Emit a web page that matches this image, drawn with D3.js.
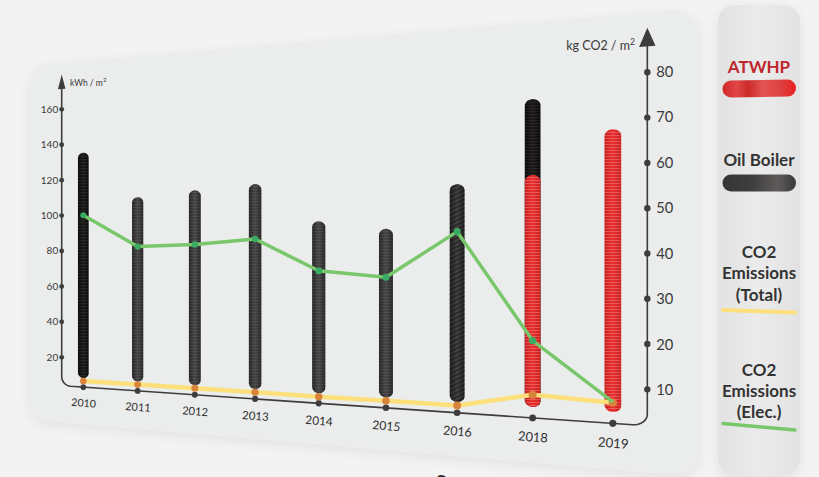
<!DOCTYPE html>
<html>
<head>
<meta charset="utf-8">
<script src="https://d3js.org/d3.v7.min.js"></script>
<style>
  body { margin: 0; background: #f3f3f3; }
  svg { display: block; font-family: Lato, "Open Sans", sans-serif; }
</style>
</head>
<body>
<svg id="chart" width="819" height="477"></svg>
<script>
// data
var years = ["2010", "2011", "2012", "2013", "2014", "2015", "2016", "2018", "2019"]
var oilBoiler = [135, 109.5, 112.5, 115, 95.5, 91.5, 112.5, 35, 0]   // kWh / m2
var atwhp = [0, 0, 0, 0, 0, 0, 0, 116, 135.5]                         // kWh / m2
var co2Total = [3.7, 3.7, 3.7, 3.7, 3.6, 3.7, 3.7, 7.3, 6.6]          // kg CO2 / m2
var co2Elec = [50, 41.3, 41.9, 43.3, 35.3, 33.9, 45, 19.8, 6.8]       // kg CO2 / m2
var kwhTicks = [20, 40, 60, 80, 100, 120, 140, 160]
var co2Ticks = [10, 20, 30, 40, 50, 60, 70, 80]
var legendNames = [["ATWHP"], ["Oil Boiler"], ["CO2", "Emissions", "(Total)"], ["CO2", "Emissions", "(Elec.)"]]

var svg = d3.select("#chart")

// perspective: the chart is drawn flat, then every point goes through proj()
var D = 2101.7, x0 = 61.7, vpx = x0 - D, vpy = 242.1
function depth(X) { return 1 / (1 - X / D) }
function proj(X, Y) {
    var s = depth(X)
    return [vpx + D * s, vpy + (Y - vpy) * s]
}
function projAll(pts) { return pts.map(function(p) { return proj(p[0], p[1]) }) }

var plotW = 458
var x = d3.scalePoint().domain(years).range([0, plotW]).padding(0.412)
var yL = d3.scaleLinear().domain([0, 160]).range([392.7, 109.3])
var yR = d3.scaleLinear().domain([0, 80]).range([392.7, 109.3])
var axisY = 385.7
var barBase = 9
var barW = 10.5

function arcPts(cx, cy, r, a0, a1, n) {
    var pts = []
    for (var i = 0; i <= n; i++) {
        var a = a0 + (a1 - a0) * i / n
        pts.push([cx + r * Math.cos(a), cy + r * Math.sin(a)])
    }
    return pts
}
function roundRect(x1, y1, x2, y2, r) {
    return [].concat(
        arcPts(x1 + r, y1 + r, r, Math.PI, 1.5 * Math.PI, 8),
        arcPts(x2 - r, y1 + r, r, 1.5 * Math.PI, 2 * Math.PI, 8),
        arcPts(x2 - r, y2 - r, r, 0, 0.5 * Math.PI, 8),
        arcPts(x1 + r, y2 - r, r, 0.5 * Math.PI, Math.PI, 8))
}
function pill(cx, yTop, yBot, r) {
    return [].concat(
        arcPts(cx, yTop + r, r, Math.PI, 2 * Math.PI, 12),
        arcPts(cx, yBot - r, r, 0, Math.PI, 12))
}
var lineClosed = d3.line().curve(d3.curveLinearClosed)
var lineOpen = d3.line()

// defs
var defs = svg.append("defs")
function hGrad(id, stops) {
    var g = defs.append("linearGradient").attr("id", id)
    stops.forEach(function(s) {
        g.append("stop").attr("offset", s[0]).attr("stop-color", s[1])
    })
}
hGrad("gDark", [[0, "#252424"], [0.5, "#474545"], [1, "#252424"]])
hGrad("gBlack", [[0, "#080808"], [0.5, "#1d1919"], [1, "#080808"]])
hGrad("gRed", [[0, "#c81e1e"], [0.5, "#ec3131"], [1, "#c81e1e"]])
hGrad("gLegRed", [[0, "#cf2a2a"], [0.2, "#e04545"], [0.35, "#cc2a2a"], [0.55, "#e45454"], [0.8, "#de4040"], [1, "#ea1f1f"]])
hGrad("gLegDark", [[0, "#353535"], [0.4, "#3f3e3e"], [0.75, "#5e5a5a"], [1, "#3a3a3a"]])
hGrad("gLegPanel", [[0, "#e2e2e2"], [0.5, "#ebebeb"], [1, "#e2e2e2"]])

var stripes = defs.append("pattern").attr("id", "stripes").attr("patternUnits", "userSpaceOnUse")
    .attr("width", 6).attr("height", 3)
stripes.append("rect").attr("width", 6).attr("height", 1.2).attr("fill", "#fff").attr("opacity", 0.07)
var stripesRed = defs.append("pattern").attr("id", "stripesRed").attr("patternUnits", "userSpaceOnUse")
    .attr("width", 6).attr("height", 3)
stripesRed.append("rect").attr("width", 6).attr("height", 1).attr("fill", "#fff").attr("opacity", 0.22)
var diag = defs.append("pattern").attr("id", "diag").attr("patternUnits", "userSpaceOnUse")
    .attr("width", 6).attr("height", 4).attr("patternTransform", "rotate(-25)")
diag.append("rect").attr("width", 6).attr("height", 1.6).attr("fill", "#111").attr("opacity", 0.55)

var shadow = defs.append("filter").attr("id", "shadow").attr("x", -0.1).attr("y", -0.1).attr("width", 1.2).attr("height", 1.25)
shadow.append("feDropShadow").attr("dx", 0).attr("dy", 4).attr("stdDeviation", 6)
    .attr("flood-color", "#000").attr("flood-opacity", 0.07)

// background
svg.append("rect").attr("width", 819).attr("height", 477).attr("fill", "#f3f3f3")

// chart panel
svg.append("path")
    .attr("d", lineClosed(projAll(roundRect(-32, 62.5, 489, 422, 18))))
    .attr("fill", "#ebecec")
    .attr("filter", "url(#shadow)")

// bars
var bars = svg.append("g")
years.forEach(function(yr, i) {
    var cx = x(yr)
    var total = oilBoiler[i] + atwhp[i]
    if (oilBoiler[i] > 0) {
        var pts = projAll(pill(cx, yL(total), yL(barBase), barW / 2))
        var fill = (i === 0 || atwhp[i] > 0) ? "url(#gBlack)" : "url(#gDark)"
        bars.append("path").attr("d", lineClosed(pts)).attr("fill", fill)
        bars.append("path").attr("d", lineClosed(pts)).attr("fill", yr === "2016" ? "url(#diag)" : "url(#stripes)")
    }
    if (atwhp[i] > 0) {
        var rp = projAll(pill(cx, yL(atwhp[i]), yL(barBase), barW / 2))
        bars.append("path").attr("d", lineClosed(rp)).attr("fill", "url(#gRed)")
        bars.append("path").attr("d", lineClosed(rp)).attr("fill", "url(#stripesRed)")
    }
})

// axes
var rc = 9
var axisPts = [].concat(
    [[0, 88]],
    arcPts(rc, axisY - rc, rc, Math.PI, 0.5 * Math.PI, 8),
    arcPts(plotW - rc, axisY - rc, rc, 0.5 * Math.PI, 0, 8),
    [[plotW, 88]])
svg.append("path").attr("d", lineOpen(projAll(axisPts)))
    .attr("fill", "none").attr("stroke", "#3d3d3d").attr("stroke-width", 1.6)

function arrow(X, w) {
    return projAll([[X, 74.5], [X + w / 2, 89], [X - w / 2, 89]])
}
svg.append("path").attr("d", lineClosed(arrow(0, 7.5))).attr("fill", "#3d3d3d")
svg.append("path").attr("d", lineClosed(arrow(plotW, 10))).attr("fill", "#3d3d3d")

// left ticks
kwhTicks.forEach(function(v) {
    var p = proj(0, yL(v))
    svg.append("circle").attr("cx", p[0]).attr("cy", p[1]).attr("r", 2.4).attr("fill", "#3d3d3d")
    var t = proj(-3.5, yL(v))
    svg.append("text").attr("x", t[0]).attr("y", t[1]).attr("dy", "0.35em")
        .attr("text-anchor", "end").attr("font-size", 10).attr("fill", "#3a3a3a").text(v)
})
// right ticks
co2Ticks.forEach(function(v) {
    var p = proj(plotW, yR(v))
    svg.append("circle").attr("cx", p[0]).attr("cy", p[1]).attr("r", 3.2).attr("fill", "#3d3d3d")
    var t = proj(plotW + 5.5, yR(v))
    svg.append("text").attr("x", t[0]).attr("y", t[1]).attr("dy", "0.36em")
        .attr("font-size", 11.5 * depth(plotW)).attr("fill", "#3a3a3a").text(v)
})

// axis titles
var lt = proj(8.3, 86.6)
var ltx = svg.append("text").attr("x", lt[0]).attr("y", lt[1]).attr("font-size", 8.5).attr("fill", "#3a3a3a")
ltx.append("tspan").text("kWh / m")
ltx.append("tspan").attr("dy", -3.5).attr("font-size", 6).text("2")
var rt = proj(450.4, 91.2)
var rtx = svg.append("text").attr("x", rt[0]).attr("y", rt[1]).attr("font-size", 12.5)
    .attr("text-anchor", "end").attr("fill", "#3a3a3a")
rtx.append("tspan").text("kg CO2 / m")
rtx.append("tspan").attr("dy", -5).attr("font-size", 8.5).text("2")

// category dots and labels
years.forEach(function(yr) {
    var p = proj(x(yr), axisY)
    svg.append("circle").attr("cx", p[0]).attr("cy", p[1]).attr("r", 2.8 * depth(x(yr))).attr("fill", "#3d3d3d")
    var t = proj(x(yr), 405)
    var ang = Math.atan((405 - vpy) / D) * 180 / Math.PI
    svg.append("text").attr("transform", "translate(" + t[0] + "," + t[1] + ") rotate(" + ang + ")")
        .attr("text-anchor", "middle").attr("font-size", 10.5 * depth(x(yr))).attr("fill", "#2f2f2f").text(yr)
})

// CO2 total line
var totPts = years.map(function(yr, i) { return proj(x(yr), yR(co2Total[i])) })
svg.append("path").attr("d", lineOpen(totPts)).attr("fill", "none")
    .attr("stroke", "#fde07c").attr("stroke-width", 4.5).attr("stroke-linejoin", "round")
totPts.forEach(function(p, i) {
    svg.append("circle").attr("cx", p[0]).attr("cy", p[1]).attr("r", 3.3 * depth(x(years[i]))).attr("fill", "#d9843b")
})

// CO2 elec line
var elPts = years.map(function(yr, i) { return proj(x(yr), yR(co2Elec[i])) })
svg.append("path").attr("d", lineOpen(elPts)).attr("fill", "none")
    .attr("stroke", "#79c76b").attr("stroke-width", 3.5).attr("stroke-linejoin", "round")
elPts.forEach(function(p, i) {
    if (i < elPts.length - 1)
        svg.append("circle").attr("cx", p[0]).attr("cy", p[1]).attr("r", 3 * depth(x(years[i]))).attr("fill", "#3aab62")
})

// stray glyph cut off at the bottom edge
svg.append("text").attr("x", 441).attr("y", 490).attr("text-anchor", "middle")
    .attr("font-size", 20).attr("font-weight", 700).attr("fill", "#333").text("S")

// legend
var leg = svg.append("g")
leg.append("rect").attr("x", 718).attr("y", 5).attr("width", 82).attr("height", 470).attr("rx", 16)
    .attr("fill", "url(#gLegPanel)").attr("filter", "url(#shadow)")

var legBaselines = [[73], [166], [258, 279, 301], [376, 397, 418]]
legendNames.forEach(function(lines, i) {
    lines.forEach(function(s, j) {
        leg.append("text").attr("x", 759).attr("y", legBaselines[i][j]).attr("text-anchor", "middle")
            .attr("font-size", 17).attr("font-weight", 700)
            .attr("fill", i === 0 ? "#c0272d" : "#333").text(s)
    })
})
leg.append("rect").attr("x", 722.5).attr("y", 80).attr("width", 73.5).attr("height", 17).attr("rx", 8.5)
    .attr("fill", "url(#gLegRed)").attr("transform", "rotate(-1 759 88)")
leg.append("rect").attr("x", 722.5).attr("y", 174.5).attr("width", 73.5).attr("height", 17).attr("rx", 8.5)
    .attr("fill", "url(#gLegDark)")
leg.append("line").attr("x1", 723).attr("y1", 310).attr("x2", 795).attr("y2", 312.5)
    .attr("stroke", "#fde07c").attr("stroke-width", 4).attr("stroke-linecap", "round")
leg.append("line").attr("x1", 723).attr("y1", 423.5).attr("x2", 795).attr("y2", 430)
    .attr("stroke", "#79c76b").attr("stroke-width", 3.5).attr("stroke-linecap", "round")
</script>
</body>
</html>
